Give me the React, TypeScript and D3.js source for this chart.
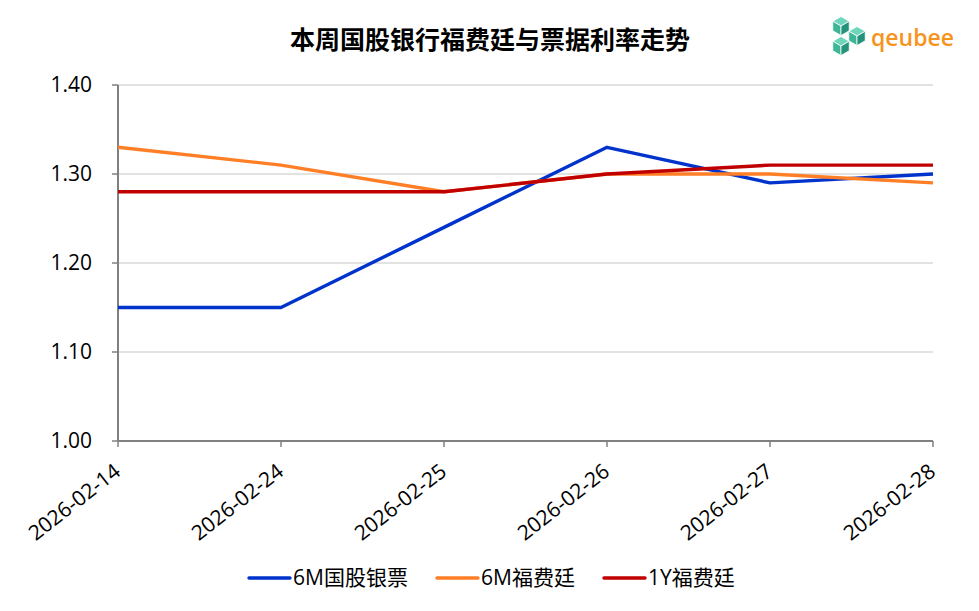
import React from "react";
import * as d3 from "d3";

const dates = ["2026-02-14", "2026-02-24", "2026-02-25", "2026-02-26", "2026-02-27", "2026-02-28"];
const bankBill6M = [1.15, 1.15, 1.24, 1.33, 1.29, 1.3];
const forfaiting6M = [1.33, 1.31, 1.28, 1.3, 1.3, 1.29];
const forfaiting1Y = [1.28, 1.28, 1.28, 1.3, 1.31, 1.31];
const yTicks = [1.0, 1.1, 1.2, 1.3, 1.4];
const seriesNames = ["6M国股银票", "6M福费廷", "1Y福费廷"];
const seriesColors = ["#0033CC", "#FF7F27", "#C00000"];
const titleText = "本周国股银行福费廷与票据利率走势";

const W = 979;
const H = 611;
const M = { left: 118, right: 933, top: 85, bottom: 441 };
const FONT = "'Open Sans', 'Noto Sans CJK SC', sans-serif";

export default function App() {
  const x = d3.scalePoint<string>().domain(dates).range([M.left, M.right]);
  const y = d3.scaleLinear().domain([1.0, 1.4]).range([M.bottom, M.top]);
  const line = d3
    .line<number>()
    .x((_, i) => x(dates[i]) as number)
    .y((d) => y(d));
  const all = [bankBill6M, forfaiting6M, forfaiting1Y];
  const legendX = [249, 437, 604];

  // logo hex-cube cluster
  const cube = (cx: number, cy: number, r: number) => {
    const pts = d3.range(6).map((k) => {
      const a = (Math.PI / 3) * k - Math.PI / 2;
      return [cx + r * Math.cos(a), cy + r * Math.sin(a)];
    });
    const c = [cx, cy];
    const top = [pts[5], pts[0], pts[1], c];
    const left = [pts[5], c, pts[3], pts[4]];
    const right = [c, pts[1], pts[2], pts[3]];
    const toStr = (p: number[][]) => p.map((q) => q.join(",")).join(" ");
    return (
      <g key={`${cx}-${cy}`} stroke="#fff" strokeWidth={0.8}>
        <polygon points={toStr(top)} fill="#6FD6BC" />
        <polygon points={toStr(left)} fill="#3FB597" />
        <polygon points={toStr(right)} fill="#25927A" />
      </g>
    );
  };

  return (
    <svg width={W} height={H} style={{ display: "block", position: "absolute", left: 0, top: 0 }}>
      <rect width={W} height={H} fill="#fff" />
      <text x={490} y={49} textAnchor="middle" fontFamily="'Noto Sans CJK SC', sans-serif" fontWeight={700} fontSize={25} fill="#000">
        {titleText}
      </text>

      {/* logo */}
      <g>
        {cube(841, 26, 9.5)}
        {cube(857, 36, 9.5)}
        {cube(841, 46, 9.5)}
        <text x={871} y={46} fontFamily={FONT} fontSize={23} fontWeight={600} fill="#F7941D">qeubee</text>
      </g>

      {/* grid */}
      {yTicks.map((t) => (
        <line key={t} x1={M.left} x2={M.right} y1={y(t)} y2={y(t)} stroke={t === 1.0 ? "#808080" : "#D9D9D9"} strokeWidth={t === 1.0 ? 2 : 1.3} />
      ))}
      {/* y axis */}
      <line x1={M.left} x2={M.left} y1={M.top} y2={M.bottom} stroke="#808080" strokeWidth={2} />
      {yTicks.map((t) => (
        <g key={`yt${t}`}>
          <line x1={M.left - 6} x2={M.left} y1={y(t)} y2={y(t)} stroke="#808080" strokeWidth={1.5} />
          <text x={92} y={y(t) + 7} textAnchor="end" fontFamily={FONT} fontSize={21} fill="#000">
            {t.toFixed(2)}
          </text>
        </g>
      ))}
      {/* x axis ticks and labels */}
      {dates.map((d) => (
        <g key={d}>
          <line x1={x(d)} x2={x(d)} y1={M.bottom} y2={M.bottom + 6} stroke="#808080" strokeWidth={1.5} />
          <text
            transform={`translate(${(x(d) as number) + 4},${M.bottom + 33}) rotate(-38)`}
            textAnchor="end"
            fontFamily={FONT}
            fontSize={21}
            fill="#000"
          >
            {d}
          </text>
        </g>
      ))}

      {/* series */}
      {all.map((vals, i) => (
        <path key={i} d={line(vals) || ""} fill="none" stroke={seriesColors[i]} strokeWidth={3.4} strokeLinejoin="round" />
      ))}

      {/* legend */}
      {seriesNames.map((n, i) => (
        <g key={n}>
          <line x1={legendX[i]} x2={legendX[i] + 41} y1={578} y2={578} stroke={seriesColors[i]} strokeWidth={3.4} strokeLinecap="round" />
          <text x={legendX[i] + 44} y={585} fontFamily={FONT} fontSize={21} fill="#000">
            {n}
          </text>
        </g>
      ))}
    </svg>
  );
}
